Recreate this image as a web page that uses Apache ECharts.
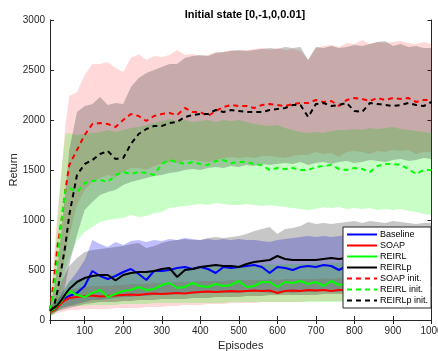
<!DOCTYPE html>
<html>
<head>
<meta charset="utf-8">
<title>Initial state [0,-1,0,0.01]</title>
<script src="https://cdn.jsdelivr.net/npm/echarts@6/dist/echarts.min.js"></script>
<style>
  html, body { margin: 0; padding: 0; background: #fff; }
  #chart { width: 438px; height: 351px; }
</style>
</head>
<body>
<div id="chart"></div>
<script>
// episodes (x), then the mean curves, then lower/upper edges of each shaded band
const episodes = [10, 20, 30, 40, 50, 60, 80, 100, 120, 140,
  160, 180, 200, 220, 240, 260, 280, 300, 320, 340,
  360, 380, 400, 420, 440, 460, 480, 500, 520, 540,
  560, 580, 600, 620, 640, 660, 680, 700, 720, 740,
  760, 780, 800, 820, 840, 860, 880, 900, 920, 940,
  960, 980, 1000]

const baseline = [90, 110, 150, 190, 220, 240, 270, 340, 490, 440,
  410, 440, 480, 510, 460, 400, 490, 490, 500, 520,
  530, 510, 530, 510, 470, 530, 520, 530, 540, 550,
  530, 470, 530, 520, 500, 530, 540, 530, 550, 540,
  500, 540, 540, 550, 540, 550, 540, 550, 540, 550,
  540, 550, 550]
const soap = [80, 100, 130, 170, 200, 220, 230, 240, 245, 235,
  240, 245, 250, 255, 250, 260, 265, 260, 265, 270,
  265, 275, 280, 285, 280, 285, 290, 285, 290, 295,
  290, 295, 270, 290, 295, 290, 300, 295, 300, 290,
  300, 300, 300, 305, 300, 305, 300, 305, 310, 305,
  310, 305, 310]
const reirl = [90, 110, 150, 190, 250, 290, 250, 230, 270, 300,
  230, 260, 290, 300, 330, 300, 310, 350, 370, 320,
  330, 370, 340, 330, 360, 340, 350, 390, 330, 340,
  380, 380, 330, 380, 370, 390, 360, 380, 340, 390,
  350, 360, 370, 350, 370, 360, 350, 370, 340, 360,
  340, 330, 320]
const reirlp = [100, 120, 150, 200, 260, 310, 380, 420, 440, 450,
  450, 395, 450, 470, 480, 480, 490, 510, 520, 430,
  500, 510, 530, 540, 550, 540, 540, 530, 560, 580,
  590, 600, 640, 610, 600, 600, 600, 600, 610, 620,
  610, 620, 620, 620, 620, 630, 620, 630, 630, 630,
  620, 630, 640]
const soapInit = [100, 400, 750, 1000, 1300, 1550, 1700, 1850, 1960, 1970,
  1960, 1930, 2000, 2060, 2040, 1990, 2040, 2060, 2070, 2050,
  2120, 2080, 2080, 2040, 2090, 2130, 2150, 2140, 2140, 2120,
  2150, 2160, 2150, 2140, 2160, 2170, 2170, 2200, 2180, 2190,
  2140, 2200, 2220, 2210, 2190, 2220, 2200, 2220, 2210, 2220,
  2180, 2200, 2200]
const reirlInit = [100, 300, 620, 1000, 1300, 1320, 1280, 1370, 1390, 1400,
  1380, 1450, 1480, 1460, 1480, 1470, 1450, 1560, 1600, 1580,
  1560, 1580, 1560, 1550, 1590, 1600, 1570, 1580, 1580, 1560,
  1550, 1500, 1520, 1510, 1520, 1500, 1500, 1530, 1540, 1550,
  1510, 1500, 1520, 1510, 1480, 1540, 1560, 1560, 1550, 1510,
  1460, 1500, 1500]
const reirlpInit = [90, 130, 300, 520, 750, 1050, 1450, 1560, 1600, 1660,
  1690, 1610, 1620, 1760, 1860, 1910, 1940, 1940, 1970, 1980,
  2030, 2050, 2060, 2060, 2100, 2080, 2100, 2090, 2080, 2080,
  2080, 2100, 2110, 2120, 2150, 2150, 2030, 2160, 2170, 2140,
  2150, 2170, 2090, 2080, 2170, 2160, 2150, 2140, 2150, 2170,
  2150, 2140, 2180]

const baselineLo = [70, 80, 100, 120, 130, 140, 160, 180, 200, 200,
  210, 220, 230, 230, 240, 240, 250, 250, 250, 260,
  260, 260, 270, 270, 270, 270, 270, 270, 280, 280,
  280, 270, 280, 280, 270, 280, 280, 280, 290, 280,
  280, 290, 290, 290, 290, 290, 290, 290, 290, 290,
  290, 290, 290]
const baselineHi = [110, 150, 200, 260, 320, 380, 480, 600, 800, 760,
  730, 780, 750, 790, 800, 780, 800, 790, 810, 800,
  820, 810, 800, 810, 800, 810, 800, 810, 800, 800,
  790, 780, 800, 810, 820, 830, 840, 830, 840, 830,
  840, 850, 840, 850, 860, 850, 850, 860, 850, 860,
  850, 850, 850]
const soapLo = [50, 60, 70, 80, 90, 100, 100, 110, 110, 110,
  110, 120, 120, 120, 120, 130, 130, 130, 140, 140,
  150, 150, 150, 160, 160, 160, 170, 170, 170, 170,
  180, 180, 180, 180, 180, 180, 190, 190, 190, 190,
  190, 190, 200, 200, 200, 200, 200, 200, 200, 200,
  200, 200, 200]
const soapHi = [100, 140, 180, 230, 270, 300, 320, 330, 340, 340,
  340, 350, 350, 360, 360, 360, 370, 370, 370, 380,
  380, 380, 390, 390, 390, 390, 400, 400, 400, 400,
  400, 410, 400, 410, 410, 410, 410, 410, 420, 410,
  420, 420, 420, 420, 420, 420, 420, 430, 430, 430,
  430, 430, 430]
const reirlLo = [60, 70, 90, 110, 130, 140, 140, 140, 150, 150,
  150, 150, 160, 160, 160, 160, 170, 170, 170, 170,
  170, 170, 170, 170, 170, 170, 180, 180, 180, 180,
  180, 180, 180, 180, 180, 180, 180, 180, 180, 180,
  180, 180, 180, 180, 180, 180, 180, 180, 180, 180,
  180, 180, 180]
const reirlHi = [110, 140, 200, 260, 330, 390, 400, 420, 440, 450,
  450, 460, 470, 480, 490, 490, 500, 510, 520, 520,
  520, 530, 530, 530, 540, 540, 540, 550, 550, 550,
  550, 560, 550, 560, 560, 560, 560, 570, 560, 570,
  570, 570, 570, 570, 570, 580, 570, 580, 570, 580,
  570, 570, 570]
const reirlpLo = [70, 80, 90, 100, 110, 120, 140, 160, 170, 180,
  180, 180, 190, 190, 200, 200, 200, 210, 210, 210,
  210, 220, 220, 220, 230, 230, 230, 230, 240, 240,
  240, 250, 250, 250, 250, 250, 250, 250, 260, 260,
  260, 260, 260, 260, 270, 270, 270, 270, 270, 270,
  270, 280, 280]
const reirlpHi = [120, 180, 280, 380, 470, 540, 620, 680, 700, 710,
  720, 730, 740, 760, 770, 720, 740, 770, 790, 800,
  810, 800, 800, 820, 830, 820, 830, 840, 860, 890,
  910, 930, 860, 910, 920, 940, 980, 960, 970, 960,
  970, 980, 990, 970, 990, 980, 970, 990, 980, 970,
  960, 970, 970]
const soapInitLo = [40, 100, 250, 450, 650, 850, 1150, 1300, 1380, 1420,
  1450, 1430, 1480, 1520, 1520, 1500, 1540, 1560, 1580, 1570,
  1600, 1600, 1590, 1580, 1600, 1620, 1630, 1620, 1630, 1620,
  1640, 1640, 1630, 1620, 1640, 1650, 1650, 1680, 1660, 1670,
  1630, 1680, 1690, 1680, 1660, 1690, 1680, 1700, 1690, 1700,
  1660, 1680, 1680]
const soapInitHi = [200, 600, 1100, 1500, 1950, 2240, 2280, 2450, 2560, 2560,
  2580, 2520, 2480, 2620, 2660, 2600, 2640, 2630, 2650, 2700,
  2650, 2660, 2640, 2650, 2680, 2680, 2700, 2690, 2700, 2710,
  2720, 2700, 2720, 2700, 2710, 2690, 2600, 2720, 2740, 2750,
  2730, 2770, 2760, 2800, 2760, 2780, 2770, 2780, 2790, 2770,
  2760, 2780, 2760]
const reirlInitLo = [40, 60, 170, 350, 500, 620, 800, 880, 930, 980,
  1000, 1010, 1020, 1050, 1030, 1040, 1070, 1080, 1120, 1130,
  1140, 1150, 1160, 1150, 1170, 1160, 1150, 1150, 1160, 1150,
  1140, 1150, 1140, 1130, 1120, 1110, 1100, 1110, 1130, 1120,
  1130, 1110, 1120, 1110, 1120, 1100, 1110, 1100, 1110, 1090,
  1080, 1060, 1050]
const reirlInitHi = [150, 500, 1000, 1500, 1860, 1870, 1850, 1860, 1870, 1880,
  1900, 1880, 1900, 1920, 1930, 1950, 1970, 1990, 2010, 1990,
  2000, 1980, 1990, 2000, 1980, 2000, 1990, 2000, 1980, 1960,
  1950, 1940, 1950, 1920, 1900, 1880, 1870, 1880, 1870, 1890,
  1900, 1900, 1910, 1900, 1920, 1910, 1920, 1930, 1910, 1900,
  1890, 1880, 1870]
const reirlpInitLo = [40, 60, 100, 200, 350, 550, 850, 1100, 1180, 1250,
  1280, 1300, 1350, 1380, 1400, 1420, 1440, 1450, 1470, 1480,
  1500, 1510, 1500, 1520, 1530, 1520, 1540, 1530, 1550, 1540,
  1560, 1550, 1560, 1570, 1560, 1580, 1550, 1570, 1580, 1560,
  1580, 1590, 1570, 1580, 1600, 1590, 1580, 1600, 1610, 1590,
  1600, 1620, 1610]
const reirlpInitHi = [150, 300, 550, 900, 1300, 1700, 2080, 2140, 2160, 2230,
  2150, 2170, 2160, 2330, 2420, 2470, 2500, 2530, 2560, 2560,
  2620, 2640, 2650, 2640, 2670, 2680, 2690, 2700, 2690, 2700,
  2710, 2720, 2710, 2730, 2720, 2730, 2600, 2730, 2720, 2740,
  2720, 2730, 2750, 2740, 2760, 2780, 2790, 2740, 2760, 2730,
  2740, 2720, 2720]

const xTicks = [100, 200, 300, 400, 500, 600, 700, 800, 900, 1000]
const yTicks = [0, 500, 1000, 1500, 2000, 2500, 3000]

const FONT = 'Liberation Sans, Arial, sans-serif'
const AXIS = '#262626'

function pairs(values) {
  return episodes.map((e, i) => [e, values[i]])
}

// shaded area between lo and hi, drawn as one polygon through the axes
function band(lo, hi, color, opacity) {
  return {
    type: 'custom',
    silent: true,
    z: 1,
    data: [[episodes[0], lo[0]]],
    renderItem: function (params, api) {
      const top = episodes.map((e, i) => api.coord([e, hi[i]]))
      const bottom = episodes.map((e, i) => api.coord([e, lo[i]])).reverse()
      return {
        type: 'polygon',
        shape: { points: top.concat(bottom) },
        style: { fill: color, opacity: opacity }
      }
    }
  }
}

function line(name, values, color, dashed) {
  return {
    type: 'line',
    name: name,
    data: pairs(values),
    symbol: 'none',
    z: 3,
    itemStyle: { color: color },
    lineStyle: { color: color, width: 2, type: dashed ? [5, 4] : 'solid' }
  }
}

const chart = echarts.init(document.getElementById('chart'))

const xAxisBase = {
  type: 'value',
  min: 10,
  max: 1000,
  splitNumber: 10,
  minInterval: 100,
  maxInterval: 100,
  splitLine: { show: false },
  axisLine: { lineStyle: { color: AXIS, width: 1 } },
  axisTick: { inside: true, length: 4, lineStyle: { color: AXIS } }
}
const yAxisBase = {
  type: 'value',
  min: 0,
  max: 3000,
  interval: 500,
  splitLine: { show: false },
  axisLine: { show: true, lineStyle: { color: AXIS, width: 1 } },
  axisTick: { show: true, inside: true, length: 4, lineStyle: { color: AXIS } }
}

chart.setOption({
  animation: false,
  title: {
    text: 'Initial state [0,-1,0,0.01]',
    left: 240,
    top: 4,
    textAlign: 'center',
    textStyle: { fontFamily: FONT, fontSize: 11, fontWeight: 'bold', color: '#000' }
  },
  grid: { left: 50, right: 6.5, top: 20, bottom: 31, containLabel: false, outerBoundsMode: 'none' },
  legend: {
    data: ['Baseline', 'SOAP', 'REIRL', 'REIRLp', 'SOAP init.', 'REIRL init.', 'REIRLp init.'],
    orient: 'vertical',
    left: 343,
    top: 227,
    padding: [3, 3, 3, 3],
    itemWidth: 30,
    itemHeight: 10,
    itemGap: 2,
    backgroundColor: '#fff',
    borderColor: AXIS,
    borderWidth: 1,
    itemStyle: { color: 'rgba(0,0,0,0)', borderWidth: 0, opacity: 0 },
    textStyle: { fontFamily: FONT, fontSize: 9, color: '#000', padding: [0, 0, 0, -2] }
  },
  xAxis: [
    Object.assign({}, xAxisBase, {
      position: 'bottom',
      name: 'Episodes',
      nameLocation: 'middle',
      nameGap: 20,
      nameMoveOverlap: false,
      nameTextStyle: { fontFamily: FONT, fontSize: 11, color: AXIS },
      axisLabel: {
        fontFamily: FONT, fontSize: 10, color: AXIS, margin: 6,
        formatter: v => (xTicks.indexOf(v) >= 0 ? String(v) : '')
      }
    }),
    Object.assign({}, xAxisBase, { position: 'top', axisLabel: { show: false } })
  ],
  yAxis: [
    Object.assign({}, yAxisBase, {
      position: 'left',
      name: 'Return',
      nameLocation: 'middle',
      nameGap: 31,
      nameMoveOverlap: false,
      nameTextStyle: { fontFamily: FONT, fontSize: 11, color: AXIS },
      axisLabel: {
        fontFamily: FONT, fontSize: 10, color: AXIS, margin: 5,
        formatter: v => (yTicks.indexOf(v) >= 0 ? String(v) : '')
      }
    }),
    Object.assign({}, yAxisBase, { position: 'right', axisLabel: { show: false } })
  ],
  series: [
    band(baselineLo, baselineHi, '#0000ff', 0.25),
    band(soapLo, soapHi, '#ff0000', 0.15),
    band(reirlLo, reirlHi, '#00ff00', 0.22),
    band(reirlpLo, reirlpHi, '#000000', 0.22),
    band(soapInitLo, soapInitHi, '#ff0000', 0.15),
    band(reirlInitLo, reirlInitHi, '#00ff00', 0.22),
    band(reirlpInitLo, reirlpInitHi, '#000000', 0.22),
    line('Baseline', baseline, '#0000ff', false),
    line('SOAP', soap, '#ff0000', false),
    line('REIRL', reirl, '#00ff00', false),
    line('REIRLp', reirlp, '#000000', false),
    line('SOAP init.', soapInit, '#ff0000', true),
    line('REIRL init.', reirlInit, '#00ff00', true),
    line('REIRLp init.', reirlpInit, '#000000', true)
  ]
})
</script>
</body>
</html>
